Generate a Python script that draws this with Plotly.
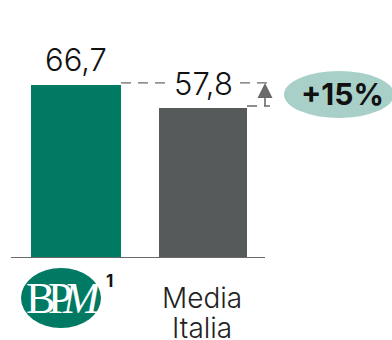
import plotly.graph_objects as go

# Series values and labels
positions = [0, 1]
values = [66.7, 57.8]
value_labels = ["66,7", "57,8"]
peer_label_lines = ["Media", "Italia"]
bar_colors = ["#007A63", "#575A5A"]
bar_widths_px = [90, 88]
delta_label = "+15%"

W, H = 392, 340
BASE_PX = 258
PX_PER_UNIT = 2.594
X0_PX, STEP_PX = 76, 127
SANS = "Inter, Lato, sans-serif"
SERIF = "'Liberation Serif', serif"
GREY = "#6A6A6A"


def px_x(p):
    return p / W


def px_y(p):
    return 1 - p / H


def dx(p):
    # Pixel column expressed in x-axis units
    return (p - X0_PX) / STEP_PX


fig = go.Figure()
fig.add_trace(go.Bar(
    x=positions, y=values, width=[w / STEP_PX for w in bar_widths_px],
    marker=dict(color=bar_colors, line=dict(width=0)),
    hoverinfo="skip",
))

# Arrow between the two bar levels
guide_top = values[0] + 0.8
guide_low = values[1] + 0.8
arrow_x = dx(265)
head_half = 7.5 / STEP_PX
head_h = 15 / PX_PER_UNIT
fig.add_trace(go.Scatter(
    x=[arrow_x, arrow_x], y=[guide_low, guide_top - head_h], mode="lines",
    line=dict(color=GREY, width=1.6), hoverinfo="skip",
))
fig.add_trace(go.Scatter(
    x=[arrow_x - head_half, arrow_x + head_half, arrow_x, arrow_x - head_half],
    y=[guide_top - head_h, guide_top - head_h, guide_top, guide_top - head_h],
    mode="lines", fill="toself", fillcolor=GREY, line=dict(width=0), hoverinfo="skip",
))


def guide(x0, x1, y):
    return dict(type="line", xref="x", yref="y", x0=dx(x0), x1=dx(x1), y0=y, y1=y,
                line=dict(color=GREY, width=1.4, dash="10px,7px"))


shapes = [
    # Baseline under the bars
    dict(type="line", xref="x", yref="y", x0=dx(11), x1=dx(265), y0=0, y1=0,
         line=dict(color=GREY, width=2)),
    # Dashed guides from the top of each bar
    guide(121, 165, guide_top),
    guide(240, 273, guide_top),
    guide(247, 270, guide_low),
    # Badge behind the percentage
    dict(type="circle", xref="paper", yref="paper", x0=px_x(284), x1=px_x(394),
         y0=px_y(118), y1=px_y(71), fillcolor="#A8D0C8", line=dict(width=0), layer="below"),
    # Bank logo disc
    dict(type="circle", xref="paper", yref="paper", x0=px_x(21), x1=px_x(101),
         y0=px_y(328), y1=px_y(268), fillcolor="#007A63", line=dict(width=0), layer="below"),
]


def paper_text(text, x, y, **font):
    italic = font.pop("italic", False)
    body = f"<i>{text}</i>" if italic else text
    return dict(text=body, xref="paper", yref="paper", x=px_x(x), y=px_y(y),
                showarrow=False, xanchor="center", yanchor="middle", font=font)


annotations = [
    dict(text=label, x=pos, y=val, xref="x", yref="y", showarrow=False,
         xanchor="center", yanchor="middle", yshift=25,
         font=dict(family=SANS, size=31, weight=300, color="#111111"))
    for pos, val, label in zip(positions, values, value_labels)
] + [
    paper_text(f"<b>{delta_label}</b>", 342, 94, family=SANS, size=30, color="#111111"),
    paper_text("B", 40, 298, family=SERIF, size=44, color="white"),
    paper_text("P", 60, 298, family=SERIF, size=44, color="white"),
    paper_text("M", 82, 298, family=SERIF, size=44, color="white", italic=True),
    paper_text("<b>1</b>", 109, 281, family=SANS, size=17, color="#111111"),
    paper_text(peer_label_lines[0], 202, 298, family=SANS, size=28, weight=300, color="#222222"),
    paper_text(peer_label_lines[1], 202, 328, family=SANS, size=28, weight=300, color="#222222"),
]

fig.update_layout(
    width=W, height=H, margin=dict(l=0, r=0, t=0, b=0),
    paper_bgcolor="white", plot_bgcolor="white",
    showlegend=False, shapes=shapes, annotations=annotations,
    xaxis=dict(
        domain=[0, 1], range=[dx(0), dx(W)], automargin=False,
        tickvals=[], showticklabels=False,
        showgrid=False, zeroline=False, showline=False,
    ),
    yaxis=dict(
        domain=[px_y(BASE_PX), 1], range=[0, BASE_PX / PX_PER_UNIT],
        automargin=False, visible=False, showgrid=False, zeroline=False,
    ),
)

fig.write_html("out.html", config={"displayModeBar": False})
